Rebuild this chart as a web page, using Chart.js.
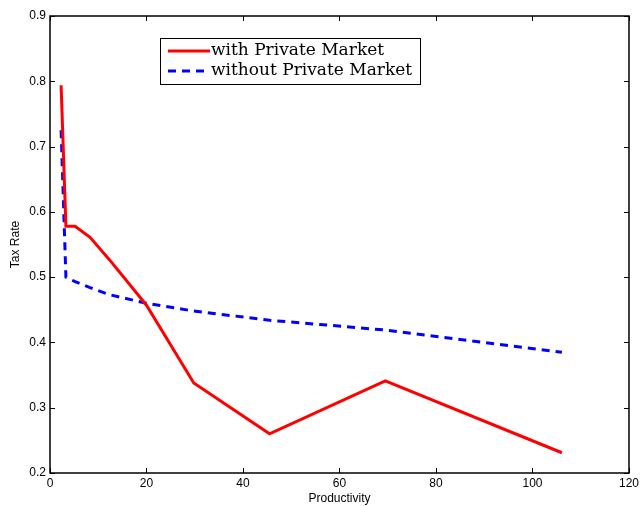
<!DOCTYPE html>
<html>
<head>
<meta charset="utf-8">
<script src="https://cdn.jsdelivr.net/npm/chart.js@4.4.1/dist/chart.umd.min.js"></script>
<style>
  html, body { margin: 0; padding: 0; background: #fff; }
  #wrap { width: 642px; height: 506px; }
</style>
</head>
<body>
<div id="wrap"><canvas id="taxChart"></canvas></div>
<script>
// productivity grid and tax rates
let productivity = [2.3, 3.3, 5.2, 8.3, 12.4, 20, 29.8, 45.5, 69.5, 106.1];
let withPrivate = [0.794, 0.578, 0.578, 0.561, 0.526, 0.457, 0.338, 0.260, 0.341, 0.231];
let withoutPrivate = [0.725, 0.500, 0.493, 0.484, 0.473, 0.460, 0.448, 0.434, 0.419, 0.385];
let xTicks = [0, 20, 40, 60, 80, 100, 120];
let yTicks = [0.2, 0.3, 0.4, 0.5, 0.6, 0.7, 0.8, 0.9];

function toPoints(xs, ys){
    return xs.map(function(x, i){ return {x: x, y: ys[i]}; });
}

// frame with inward ticks, matlab style
let framePlugin = {
    id: 'frame',
    afterDraw: function(chart){
        let ctx = chart.ctx;
        let a = chart.chartArea;
        let xs = chart.scales.x, ys = chart.scales.y;
        ctx.save();
        ctx.strokeStyle = '#000';
        ctx.lineWidth = 1.5;
        ctx.strokeRect(a.left, a.top, a.right - a.left, a.bottom - a.top);
        ctx.lineWidth = 1;
        ctx.beginPath();
        xTicks.forEach(function(v){
            let p = Math.round(xs.getPixelForValue(v)) + 0.5;
            ctx.moveTo(p, a.bottom); ctx.lineTo(p, a.bottom - 5);
            ctx.moveTo(p, a.top); ctx.lineTo(p, a.top + 5);
        });
        yTicks.forEach(function(v){
            let p = Math.round(ys.getPixelForValue(v)) + 0.5;
            ctx.moveTo(a.left, p); ctx.lineTo(a.left + 5, p);
            ctx.moveTo(a.right, p); ctx.lineTo(a.right - 5, p);
        });
        ctx.stroke();

        // legend box
        let bx = 160, by = 38, bw = 260, bh = 46;
        ctx.fillStyle = '#fff';
        ctx.fillRect(bx, by, bw, bh);
        ctx.strokeStyle = '#000';
        ctx.lineWidth = 1;
        ctx.strokeRect(bx + 0.5, by + 0.5, bw, bh);
        ctx.font = '17px "DejaVu Serif", "Liberation Serif", serif';
        ctx.textBaseline = 'middle';
        ctx.fillStyle = '#000';
        chart.data.datasets.forEach(function(ds, i){
            let ly = by + 13 + i * 20;
            ctx.beginPath();
            ctx.strokeStyle = ds.borderColor;
            ctx.lineWidth = 3;
            ctx.setLineDash(ds.borderDash || []);
            ctx.moveTo(bx + 8, ly);
            ctx.lineTo(bx + 50, ly);
            ctx.stroke();
            ctx.setLineDash([]);
            ctx.fillText(ds.label, bx + 51, ly);
        });
        ctx.restore();
    }
};

let config = {
    type: 'line',
    data: {
        datasets: [
            {
                label: 'with Private Market',
                data: toPoints(productivity, withPrivate),
                borderColor: '#ff0000',
                borderWidth: 3,
                pointRadius: 0,
                tension: 0,
                fill: false
            },
            {
                label: 'without Private Market',
                data: toPoints(productivity, withoutPrivate),
                borderColor: '#0000ff',
                borderWidth: 3,
                borderDash: [8, 6],
                pointRadius: 0,
                tension: 0,
                fill: false
            }
        ]
    },
    options: {
        responsive: true,
        maintainAspectRatio: false,
        animation: false,
        layout: { padding: { top: 16, right: 12, left: 0, bottom: 0 } },
        plugins: {
            legend: { display: false },
            tooltip: { enabled: false }
        },
        scales: {
            x: {
                type: 'linear',
                min: 0,
                max: 120,
                afterBuildTicks: function(s){ s.ticks = xTicks.map(function(v){ return {value: v}; }); },
                afterFit: function(s){ s.height = 33; },
                grid: { display: false, drawTicks: false },
                border: { display: false },
                ticks: {
                    color: '#000',
                    padding: 3,
                    maxRotation: 0,
                    font: { family: '"Liberation Sans", Arial, sans-serif', size: 12 }
                },
                title: {
                    display: true,
                    text: 'Productivity',
                    color: '#000',
                    padding: { top: 2, bottom: 0 },
                    font: { family: '"Liberation Sans", Arial, sans-serif', size: 12 }
                }
            },
            y: {
                type: 'linear',
                min: 0.2,
                max: 0.9,
                afterBuildTicks: function(s){ s.ticks = yTicks.map(function(v){ return {value: v}; }); },
                afterFit: function(s){ s.width = 50; },
                grid: { display: false, drawTicks: false },
                border: { display: false },
                ticks: {
                    color: '#000',
                    padding: 4,
                    font: { family: '"Liberation Sans", Arial, sans-serif', size: 12 },
                    callback: function(v){ return v.toFixed(1); }
                },
                title: {
                    display: true,
                    text: 'Tax Rate',
                    color: '#000',
                    padding: { top: 8, bottom: 0 },
                    font: { family: '"Liberation Sans", Arial, sans-serif', size: 12 }
                }
            }
        }
    },
    plugins: [framePlugin]
};

new Chart(document.getElementById('taxChart'), config);
</script>
</body>
</html>
